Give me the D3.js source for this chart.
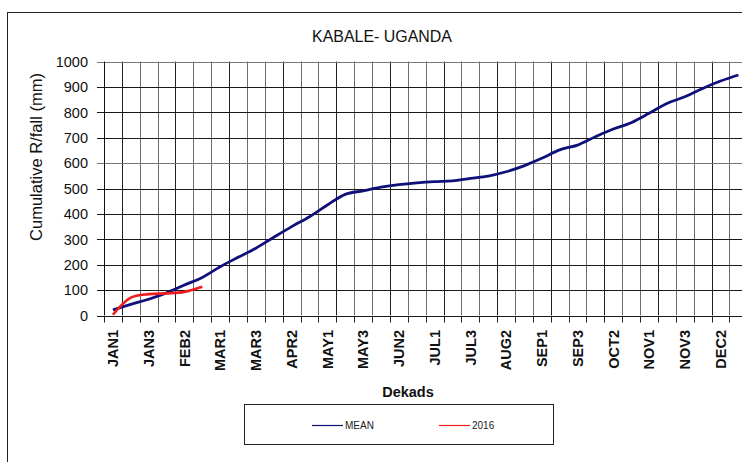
<!DOCTYPE html>
<html>
<head>
<meta charset="utf-8">
<script src="https://cdn.jsdelivr.net/npm/d3@7"></script>
<style>
  body { margin: 0; background: #fff; }
  svg { display: block; font-family: "Liberation Sans", Arial, sans-serif; }
</style>
</head>
<body>
<div id="chart"></div>
<script>
const dekads = ['JAN1', 'JAN2', 'JAN3', 'FEB1', 'FEB2', 'FEB3', 'MAR1', 'MAR2', 'MAR3',
	'APR1', 'APR2', 'APR3', 'MAY1', 'MAY2', 'MAY3', 'JUN1', 'JUN2', 'JUN3',
	'JUL1', 'JUL2', 'JUL3', 'AUG1', 'AUG2', 'AUG3', 'SEP1', 'SEP2', 'SEP3',
	'OCT1', 'OCT2', 'OCT3', 'NOV1', 'NOV2', 'NOV3', 'DEC1', 'DEC2', 'DEC3']

// cumulative rainfall, mm
const meanValues = [22, 44, 64, 89, 120, 150, 192, 229, 265,
	308, 350, 389, 435, 477, 491, 505, 515, 522,
	527, 530, 540, 549, 566, 589, 619, 652, 671,
	704, 734, 759, 796, 835, 861, 894, 923, 947]
const values2016 = [3, 70, 84, 87, 93, 113]

const yTicks = [0, 100, 200, 300, 400, 500, 600, 700, 800, 900, 1000]

const W = 742, H = 462
const plotLeft = 104, plotTop = 61.5, plotBottom = 315.5, step = 17.87

const svg = d3.select('#chart')
	.append('svg')
	.attr('width', W)
	.attr('height', H)

// chart area border (runs off the right/bottom of the picture)
svg.append('rect')
	.attr('x', 7.5).attr('y', 12.5)
	.attr('width', W + 20).attr('height', H + 20)
	.attr('fill', 'none')
	.attr('stroke', '#222')

const x = d3.scaleBand()
	.domain(dekads)
	.range([plotLeft, plotLeft + dekads.length * step])

const y = d3.scaleLinear()
	.domain([0, 1000])
	.range([plotBottom, plotTop])

const cx = d => x(d) + x.bandwidth() / 2
const px = v => Math.round(v) + 0.5

// vertical grid at the dekad boundaries
const bounds = dekads.map(d => x(d)).concat([x.range()[1]])
svg.selectAll('.vgrid')
	.data(bounds.slice(1))
	.enter()
	.append('line')
	.attr('class', 'vgrid')
	.attr('x1', d => px(d)).attr('x2', d => px(d))
	.attr('y1', y(1000)).attr('y2', y(0))
	.attr('stroke', (d, i) => i % 3 === 0 ? '#222' : '#6e6e6e')

// horizontal grid
svg.selectAll('.hgrid')
	.data(yTicks)
	.enter()
	.append('line')
	.attr('class', 'hgrid')
	.attr('x1', plotLeft - 7).attr('x2', W)
	.attr('y1', d => px(y(d))).attr('y2', d => px(y(d)))
	.attr('stroke', d => (d === 600 || d === 1000) ? '#777' : '#1a1a1a')

// y axis line
svg.append('line')
	.attr('x1', px(plotLeft)).attr('x2', px(plotLeft))
	.attr('y1', y(1000)).attr('y2', y(0))
	.attr('stroke', '#111')

// x tick marks
svg.selectAll('.xtick')
	.data(bounds)
	.enter()
	.append('line')
	.attr('class', 'xtick')
	.attr('x1', d => px(d)).attr('x2', d => px(d))
	.attr('y1', px(y(0))).attr('y2', px(y(0)) + 6)
	.attr('stroke', '#222')

// y tick labels
svg.selectAll('.ylab')
	.data(yTicks)
	.enter()
	.append('text')
	.attr('class', 'ylab')
	.attr('x', 88)
	.attr('y', d => y(d))
	.attr('dy', '0.36em')
	.attr('text-anchor', 'end')
	.attr('font-size', 14.5)
	.attr('fill', '#111')
	.text(d => d)

// x labels, every second dekad
svg.selectAll('.xlab')
	.data(dekads.filter((d, i) => i % 2 === 0))
	.enter()
	.append('text')
	.attr('class', 'xlab')
	.attr('transform', d => `translate(${cx(d)},330) rotate(-90)`)
	.attr('dy', '0.36em')
	.attr('text-anchor', 'end')
	.attr('font-size', 14.5)
	.attr('font-weight', 'bold')
	.attr('fill', '#111')
	.text(d => d)

// titles
svg.append('text')
	.attr('x', 382).attr('y', 42)
	.attr('text-anchor', 'middle')
	.attr('font-size', 17)
	.attr('textLength', 140)
	.attr('lengthAdjust', 'spacingAndGlyphs')
	.attr('fill', '#111')
	.text('KABALE- UGANDA')

svg.append('text')
	.attr('transform', 'translate(42,157) rotate(-90)')
	.attr('text-anchor', 'middle')
	.attr('font-size', 16.5)
	.attr('fill', '#111')
	.text('Cumulative R/fall (mm)')

svg.append('text')
	.attr('x', 408).attr('y', 397)
	.attr('text-anchor', 'middle')
	.attr('font-size', 14.5)
	.attr('font-weight', 'bold')
	.attr('fill', '#111')
	.text('Dekads')

// series
const line = d3.line()
	.x(d => cx(d.k))
	.y(d => y(d.v))
	.curve(d3.curveCatmullRom.alpha(0.5))

svg.append('path')
	.datum(meanValues.map((v, i) => ({ k: dekads[i], v })))
	.attr('d', line)
	.attr('fill', 'none')
	.attr('stroke', '#10107a')
	.attr('stroke-width', 2.8)
	.attr('stroke-linejoin', 'round')

svg.append('path')
	.datum(values2016.map((v, i) => ({ k: dekads[i], v })))
	.attr('d', line)
	.attr('fill', 'none')
	.attr('stroke', '#ee1c1c')
	.attr('stroke-width', 2.6)
	.attr('stroke-linejoin', 'round')

// legend
const legend = svg.append('g')
svg.append('rect')
	.attr('x', 244.5).attr('y', 404.5)
	.attr('width', 309).attr('height', 40)
	.attr('fill', 'none')
	.attr('stroke', '#222')

const legendItems = [
	{ name: 'MEAN', color: '#10107a', x: 312 },
	{ name: '2016', color: '#ee1c1c', x: 439 }
]
legendItems.forEach(item => {
	legend.append('line')
		.attr('x1', item.x).attr('x2', item.x + 31)
		.attr('y1', 425.5).attr('y2', 425.5)
		.attr('stroke', item.color)
		.attr('stroke-width', 1.2)
	legend.append('text')
		.attr('x', item.x + 33).attr('y', 425)
		.attr('dy', '0.36em')
		.attr('font-size', 10)
		.attr('fill', '#222')
		.text(item.name)
})
</script>
</body>
</html>
